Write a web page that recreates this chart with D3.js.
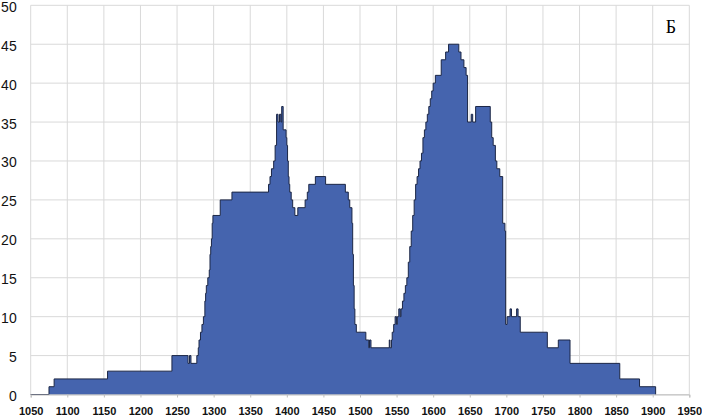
<!DOCTYPE html>
<html>
<head>
<meta charset="utf-8">
<script src="https://cdn.jsdelivr.net/npm/d3@7"></script>
<style>
  html, body { margin: 0; padding: 0; background: #fff; }
  svg { display: block; }
</style>
</head>
<body>
<svg id="chart" width="702" height="417"></svg>
<script>
// Change points of the step series (value holds until next year listed)
const years = [1050,1075,1082,1155,1243,1265,1267,1269,1277,1279,1280,1282,1284,1286,1288,1289,1290,1292,1294,1295,1296,1297,1298,1299,1309,1325,1375,1377,1379,1382,1384,1386,1388,1390,1392,1393,1395,1399,1400,1401,1402,1403,1404,1406,1408,1411,1415,1425,1428,1430,1439,1453,1480,1484,1486,1489,1490,1491,1492,1493,1495,1508,1512,1513,1515,1540,1541,1543,1544,1546,1548,1550,1551,1553,1555,1556,1558,1560,1562,1564,1566,1568,1570,1572,1574,1576,1578,1580,1582,1584,1586,1588,1590,1592,1594,1596,1598,1600,1603,1611,1617,1621,1635,1638,1642,1645,1647,1652,1654,1658,1678,1680,1682,1685,1687,1691,1695,1698,1699,1701,1705,1707,1714,1716,1719,1756,1771,1787,1855,1882,1904];
const counts = [0,1,2,3,5,4,5,4,5,6,7,8,9,10,12,13,14,15,16,18,19,20,22,23,25,26,27,28,29,30,32,36,35,36,35,37,34,33,32,30,28,27,26,25,24,23,24,25,26,27,28,27,26,25,24,22,18,14,11,9,8,7,6,7,6,7,6,7,8,9,10,9,10,11,10,11,12,13,14,15,17,19,21,23,25,27,28,29,30,31,33,34,35,36,37,38,39,40,41,43,44,45,44,43,42,41,35,36,35,37,35,33,32,30,29,28,22,21,9,10,11,10,11,10,8,6,7,4,2,1,0];
const xTicks = [1050,1100,1150,1200,1250,1300,1350,1400,1450,1500,1550,1600,1650,1700,1750,1800,1850,1900,1950];
const yTicks = [0,5,10,15,20,25,30,35,40,45,50];
const panelLabel = "Б";

const data = years.map((yr, i) => ({year: yr, count: counts[i]}));

const svg = d3.select("#chart");
const mLeft = 30.7, mRight = 689.3, mTop = 5.3, mBottom = 394.5;

const x = d3.scaleLinear().domain([1050, 1950]).range([mLeft, mRight]);
const y = d3.scaleLinear().domain([0, 50]).range([mBottom, mTop]);

// Gridlines
const grid = svg.append("g");
grid.selectAll("line.v").data(xTicks).enter().append("line")
  .attr("class", "v")
  .attr("x1", d => x(d)).attr("x2", d => x(d))
  .attr("y1", mTop).attr("y2", mBottom)
  .attr("stroke", "#d9d9d9").attr("stroke-width", 1);
grid.selectAll("line.h").data(yTicks).enter().append("line")
  .attr("class", "h")
  .attr("x1", mLeft).attr("x2", mRight)
  .attr("y1", d => y(d)).attr("y2", d => y(d))
  .attr("stroke", "#d9d9d9").attr("stroke-width", 1);

// Area
const area = d3.area()
  .x(d => x(d.year)).y0(y(0)).y1(d => y(d.count))
  .curve(d3.curveStepAfter);
const line = d3.line()
  .x(d => x(d.year)).y(d => y(d.count))
  .curve(d3.curveStepAfter);

svg.append("path").datum(data)
  .attr("d", area)
  .attr("fill", "#4564AE");
svg.append("path").datum(data)
  .attr("d", line)
  .attr("fill", "none")
  .attr("stroke", "#1c2746")
  .attr("stroke-width", 1);

// X axis
const xAxis = d3.axisBottom(x).tickValues(xTicks).tickSize(3).tickPadding(10).tickFormat(d3.format("d"));
const gx = svg.append("g").attr("transform", `translate(0,${mBottom})`).call(xAxis);
gx.select(".domain").attr("stroke", "#bfbfbf");
gx.selectAll(".tick line").attr("stroke", "#bfbfbf");
gx.selectAll(".tick text")
  .attr("font-family", "Liberation Sans, Arial, sans-serif")
  .attr("font-size", "11px")
  .attr("font-weight", "bold")
  .attr("fill", "#111");

// Y axis
const yAxis = d3.axisLeft(y).tickValues(yTicks).tickSize(0).tickPadding(14);
const gy = svg.append("g").attr("transform", `translate(${mLeft},1.5)`).call(yAxis);
gy.select(".domain").remove();
gy.selectAll(".tick text")
  .attr("font-family", "Liberation Sans, Arial, sans-serif")
  .attr("font-size", "14px")
  .attr("fill", "#111");

// Panel label
svg.append("text")
  .attr("x", 671).attr("y", 32.5)
  .attr("text-anchor", "middle")
  .attr("font-family", "Liberation Serif, Times New Roman, serif")
  .attr("font-size", "18px")
  .attr("fill", "#000")
  .text(panelLabel);
</script>
</body>
</html>
